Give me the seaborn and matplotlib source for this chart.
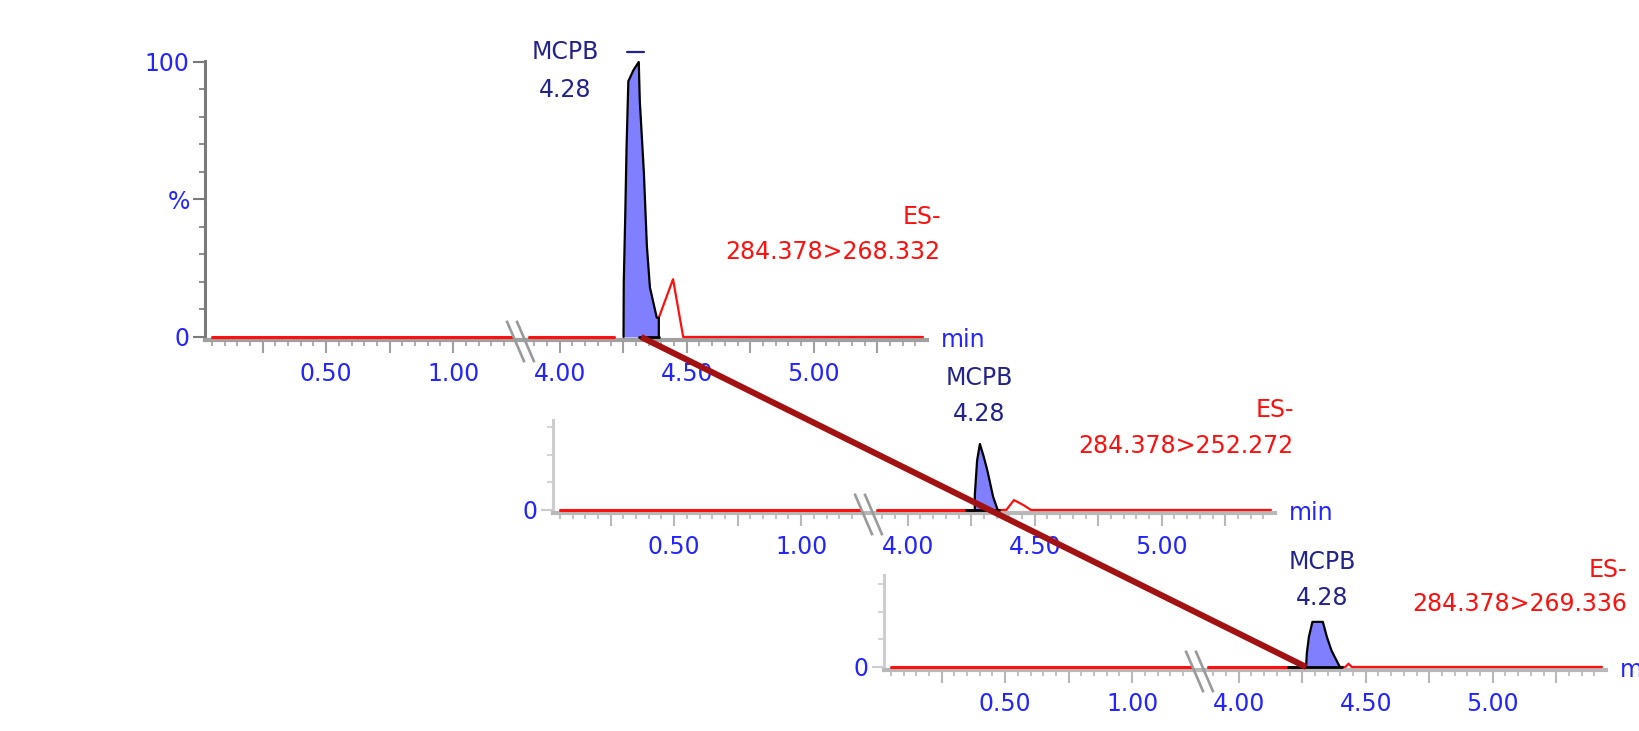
import numpy as np
import matplotlib
matplotlib.use("Agg")
import matplotlib.pyplot as plt
import seaborn as sns
from matplotlib.patches import ConnectionPatch
from matplotlib.path import Path
from matplotlib.ticker import FixedLocator, FixedFormatter, NullFormatter

# ------------------------------------------------------------------ data
compound = "MCPB"
retention_label = "4.28"
ionisation = "ES-"
transitions = ["284.378>268.332", "284.378>252.272", "284.378>269.336"]

# red baseline trace before the axis break (min)
left_trace_t = [0.05, 1.23]
left_trace_y = [0, 0]

# red trace after the break, up to the integrated peak
pre_t = [[3.88, 4.215], [3.88, 4.264], [3.88, 4.265]]
pre_y = [[0, 0], [0, 0], [0, 0]]

# integrated MCPB peaks (time in min, intensity in %)
peak_t = [
    [4.251, 4.252, 4.258, 4.263, 4.270, 4.290, 4.311, 4.315, 4.331, 4.343, 4.355, 4.382, 4.390, 4.390],
    [4.264, 4.264, 4.273, 4.284, 4.299, 4.313, 4.336, 4.354],
    [4.265, 4.268, 4.276, 4.290, 4.331, 4.347, 4.365, 4.378, 4.398],
]
peak_y = [
    [0, 20, 45, 69, 93, 97, 100, 86, 60, 33, 18, 7, 7, 0],
    [0, 5.5, 18, 24, 19.4, 14.5, 4.8, 0],
    [0, 5, 10.9, 16.4, 16.4, 10.9, 6, 3.6, 0],
]
# integration baseline drawn under each peak
int_base_t = [[4.310, 4.390], [4.231, 4.358], [4.194, 4.408]]

# red trace after the peak
post_t = [
    [4.390, 4.446, 4.486, 5.43],
    [4.354, 4.388, 4.418, 4.455, 4.485, 5.43],
    [4.398, 4.420, 4.432, 4.445, 5.43],
]
post_y = [
    [7, 21, 0, 0],
    [0, 0, 3.6, 1.8, 0, 0],
    [0, 0, 1.2, 0, 0],
]

# time at which the 3-D "depth" axis meets each stacked baseline
link_t = [4.32, 4.265]

x_major = [0.25, 0.50, 0.75, 1.00, 4.00, 4.25, 4.50, 4.75, 5.00, 5.25]
x_labels = ["", "0.50", "", "1.00", "4.00", "", "4.50", "", "5.00", ""]
x_minor = [round(v, 2) for v in list(np.arange(0.05, 1.21, 0.05)) + list(np.arange(3.90, 5.41, 0.05))]
x_minor = [v for v in x_minor if v not in x_major]

# ------------------------------------------------------------------ style
sns.set_style("white")
plt.rcParams["font.family"] = ["DejaVu Sans"]

W, H = 1639, 731
fig = plt.figure(figsize=(W / 100, H / 100), dpi=100)

BLUE_TXT = "#2424ff"
NAVY = "#23238c"
RED = "#ff1010"
FILL = "#8080ff"
FS = 17

GAP = 2.58


def fwd(t):
    t = np.asarray(t, dtype=float)
    return np.where(t > 2.5, t - GAP, t)


def inv(u):
    u = np.asarray(u, dtype=float)
    return np.where(u > 1.265, u + GAP, u)


# panel geometry (pixels)
spine_x = [205, 553, 884]
spine_y = [340, 513, 670]
y_top = [100.4, 32.7, 33.5]
Y0 = -1.1
PX_PER_PCT = 2.75
AX_W = 722

axes = []
for i in range(3):
    h = (y_top[i] - Y0) * PX_PER_PCT
    ax = fig.add_axes([spine_x[i] / W, (H - spine_y[i]) / H, AX_W / W, h / H])
    ax.patch.set_alpha(0)
    axes.append(ax)

    # red chromatogram trace
    sns.lineplot(x=left_trace_t, y=left_trace_y, ax=ax, color=RED, lw=2.2,
                 sort=False, estimator=None, zorder=3)
    sns.lineplot(x=pre_t[i], y=pre_y[i], ax=ax, color=RED, lw=2.2,
                 sort=False, estimator=None, zorder=3)
    sns.lineplot(x=post_t[i], y=post_y[i], ax=ax, color=RED, lw=1.6,
                 sort=False, estimator=None, zorder=3)

    # integrated peak
    ax.fill_between(peak_t[i], peak_y[i], 0, color=FILL, lw=0, zorder=4)
    ax.plot(peak_t[i], peak_y[i], color="black", lw=1.6, zorder=5)
    ax.plot(int_base_t[i], [0, 0], color="black", lw=2.0, zorder=5)

    ax.set_xlabel("")
    ax.set_ylabel("")

    # broken time axis
    ax.set_xscale("function", functions=(fwd, inv))
    ax.set_xlim(0.023, 5.446)
    ax.set_ylim(Y0, y_top[i])

    ax.xaxis.set_major_locator(FixedLocator(x_major))
    ax.xaxis.set_major_formatter(FixedFormatter(x_labels))
    ax.xaxis.set_minor_locator(FixedLocator(x_minor))
    ax.xaxis.set_minor_formatter(NullFormatter())

    if i == 0:
        ax.yaxis.set_major_locator(FixedLocator([0, 50, 100]))
        ax.yaxis.set_major_formatter(FixedFormatter(["0", "%", "100"]))
        ax.yaxis.set_minor_locator(FixedLocator([10, 20, 30, 40, 60, 70, 80, 90]))
        ycol, xcol = "#7a7a7a", "#a0a0a0"
    else:
        ax.yaxis.set_major_locator(FixedLocator([0]))
        ax.yaxis.set_major_formatter(FixedFormatter(["0"]))
        ax.yaxis.set_minor_locator(FixedLocator([10, 20, 30]))
        ycol, xcol = "#cdcdcd", "#b8b8b8"
    ax.yaxis.set_minor_formatter(NullFormatter())

    for s in ("top", "right"):
        ax.spines[s].set_visible(False)
    ax.spines["left"].set_color(ycol)
    ax.spines["left"].set_linewidth(2.2)
    ax.spines["bottom"].set_color(xcol)
    ax.spines["bottom"].set_linewidth(3.0)

    ax.tick_params(which="both", bottom=True, left=True, top=False, right=False)
    ax.tick_params(axis="x", which="major", direction="out", length=9, width=1.5,
                   color=xcol, labelcolor=BLUE_TXT, labelsize=FS, pad=7)
    ax.tick_params(axis="x", which="minor", direction="out", length=4, width=1.2, color=xcol)
    ax.tick_params(axis="y", which="major", direction="out", length=9, width=1.5,
                   color=ycol, labelcolor=BLUE_TXT, labelsize=FS, pad=2)
    ax.tick_params(axis="y", which="minor", direction="out", length=4, width=1.2, color=ycol)

    # axis break mark "\\"
    brk = Path([(-14, 21), (4, -21), (-4, 21), (14, -21)],
               [Path.MOVETO, Path.LINETO, Path.MOVETO, Path.LINETO])
    t_break = (left_trace_t[-1] + fwd(pre_t[i][0])) / 2
    ax.plot([t_break], [-1.45], marker=brk, markersize=30, markeredgewidth=1.9,
            markeredgecolor="#9a9a9a", markerfacecolor="none", linestyle="none",
            clip_on=False, zorder=6)

    # "min" unit
    ax.text(5.50, Y0, "min", ha="left", va="center", color=BLUE_TXT, fontsize=FS)

# ------------------------------------------------------------------ annotations
# compound / retention time labels
lab_pos = [(4.02, 103.6, 89.8), (4.28, 48.0, 34.9), (4.33, 38.2, 25.0)]
for ax, (tx, y1, y2) in zip(axes, lab_pos):
    ax.text(tx, y1, compound, ha="center", va="center", color=NAVY, fontsize=FS)
    ax.text(tx, y2, retention_label, ha="center", va="center", color=NAVY, fontsize=FS)

apex_t = peak_t[0][int(np.argmax(peak_y[0]))]
axes[0].plot([apex_t - 0.046, apex_t + 0.02], [103.6, 103.6], color=NAVY, lw=1.6,
             clip_on=False, zorder=6)

# transition labels
tr_pos = [(5.50, 43.6, 30.9), (5.52, 36.4, 23.3), (5.53, 35.3, 22.9)]
for ax, (tx, y1, y2), tr in zip(axes, tr_pos, transitions):
    ax.text(tx, y1, ionisation, ha="right", va="center", color=RED, fontsize=FS)
    ax.text(tx, y2, tr, ha="right", va="center", color=RED, fontsize=FS)

# depth axis joining the stacked chromatograms
con = ConnectionPatch(xyA=(link_t[0], 0), coordsA=axes[0].transData,
                      xyB=(link_t[1], 0), coordsB=axes[2].transData,
                      color="#a31212", lw=4.4, zorder=10, capstyle="butt")
fig.add_artist(con)

fig.savefig("out.png", dpi=100, facecolor="white")
